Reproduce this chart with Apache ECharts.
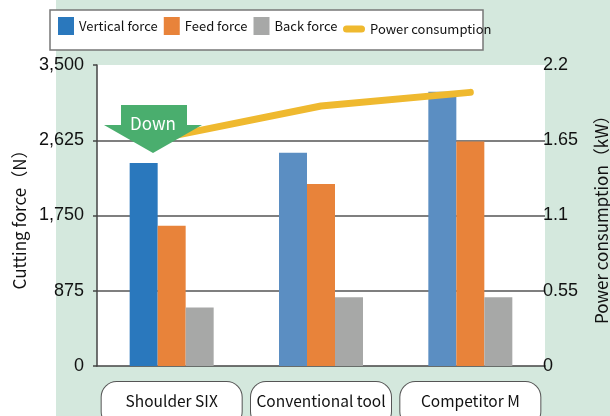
<!DOCTYPE html>
<html>
<head>
<meta charset="utf-8">
<script src="https://cdn.jsdelivr.net/npm/echarts@6/dist/echarts.min.js"></script>
<style>
  html, body { margin: 0; padding: 0; }
  #chart { width: 610px; height: 416px; }
</style>
</head>
<body>
<div id="chart"></div>
<script>
  // data
  const categories = ['Shoulder SIX', 'Conventional tool', 'Competitor M']
  const verticalForce = [2360, 2480, 3190]
  const feedForce = [1630, 2115, 2610]
  const backForce = [680, 800, 800]
  const powerConsumption = [1.68, 1.9, 2.0]
  const forceTicks = { min: 0, max: 3500, interval: 875 }
  const powerTicks = { min: 0, max: 2.2, interval: 0.55 }

  const uiFont = '"Noto Sans CJK SC", "Noto Sans", sans-serif'
  const numFont = '"Liberation Sans", Arial, sans-serif'
  // first group is highlighted in a deeper blue
  const blues = ['#2a78bd', '#5b8ec2', '#5b8ec2']

  const chart = echarts.init(document.getElementById('chart'))

  chart.setOption({
    backgroundColor: '#d4e8dd',
    animation: false,
    graphic: [
      { type: 'rect', z: -10, shape: { x: 0, y: 0, width: 56, height: 416 }, style: { fill: '#fff' } },
      { type: 'rect', z: 1, shape: { x: 50, y: 10, width: 433, height: 40 }, style: { fill: '#fff', stroke: '#777', lineWidth: 1.5 } },
      // "Down" arrow annotation
      {
        type: 'polygon', z: 100,
        shape: { points: [[121, 105], [187, 105], [187, 125], [202, 125], [153, 153], [104, 125], [121, 125]] },
        style: { fill: '#4aae6e' }
      },
      {
        type: 'text', z: 101, x: 153, y: 124,
        style: { text: 'Down', fill: '#fff', fontSize: 17, fontFamily: uiFont, align: 'center', verticalAlign: 'middle' }
      }
    ],
    legend: [{
      data: ['Vertical force', 'Feed force', 'Back force'],
      left: 58,
      top: 17,
      padding: 0,
      icon: 'rect',
      itemWidth: 16,
      itemHeight: 18,
      itemGap: 6,
      textStyle: { fontFamily: uiFont, fontSize: 13, color: '#111' }
    }, {
      data: [{ name: 'Power consumption', icon: 'path://M3.5,0H18.5A3.5,3.5,0,0,1,18.5,7H3.5A3.5,3.5,0,0,1,3.5,0Z' }],
      left: 343,
      top: 22.5,
      padding: 0,
      itemWidth: 22,
      itemHeight: 7,
      textStyle: { fontFamily: uiFont, fontSize: 13, color: '#111' }
    }],
    grid: {
      left: 97,
      right: 65,
      top: 65,
      bottom: 50,
      containLabel: false,
      outerBoundsMode: 'none',
      show: true,
      backgroundColor: '#fff',
      borderWidth: 0
    },
    xAxis: {
      type: 'category',
      data: categories,
      axisLine: { lineStyle: { color: '#444', width: 1.5 } },
      axisTick: { show: false },
      axisLabel: {
        interval: 0,
        margin: 16,
        fontFamily: uiFont,
        fontSize: 15.5,
        color: '#111',
        backgroundColor: '#fff',
        borderColor: '#555',
        borderWidth: 1,
        borderRadius: 15,
        width: 140,
        align: 'center',
        padding: [11, 0, 18, 0]
      }
    },
    yAxis: [{
      type: 'value',
      min: forceTicks.min,
      max: forceTicks.max,
      interval: forceTicks.interval,
      name: 'Cutting force（N）',
      nameLocation: 'middle',
      nameGap: 68,
      nameTextStyle: { fontFamily: uiFont, fontSize: 17, color: '#111' },
      axisLine: { show: true, lineStyle: { color: '#444', width: 1.5 } },
      axisTick: { show: true, length: 4, lineStyle: { color: '#444', width: 1.5 } },
      axisLabel: {
        margin: 13,
        fontFamily: numFont,
        fontSize: 18,
        color: '#111',
        formatter: v => v.toLocaleString('en-US')
      },
      splitLine: {
        show: true,
        showMinLine: false,
        showMaxLine: false,
        lineStyle: { color: '#555', width: 1.5 }
      }
    }, {
      type: 'value',
      position: 'right',
      min: powerTicks.min,
      max: powerTicks.max,
      interval: powerTicks.interval,
      name: 'Power consumption（kW）',
      nameLocation: 'middle',
      nameRotate: 90,
      nameGap: 48,
      nameTextStyle: { fontFamily: uiFont, fontSize: 17, color: '#111' },
      axisLine: { show: false },
      axisTick: { show: false },
      splitLine: { show: false },
      axisLabel: {
        margin: -2,
        fontFamily: numFont,
        fontSize: 18,
        color: '#111',
        formatter: v => String(+v.toFixed(2))
      }
    }],
    series: [{
      name: 'Vertical force',
      type: 'bar',
      barWidth: 28,
      barGap: '0%',
      itemStyle: { color: blues[0] },
      data: verticalForce.map((v, i) => ({ value: v, itemStyle: { color: blues[i] } }))
    }, {
      name: 'Feed force',
      type: 'bar',
      barWidth: 28,
      barGap: '0%',
      itemStyle: { color: '#e8833a' },
      data: feedForce
    }, {
      name: 'Back force',
      type: 'bar',
      barWidth: 28,
      barGap: '0%',
      itemStyle: { color: '#a7a8a7' },
      data: backForce
    }, {
      name: 'Power consumption',
      type: 'line',
      yAxisIndex: 1,
      symbol: 'none',
      z: 3,
      lineStyle: { color: '#efb92f', width: 7, cap: 'round' },
      itemStyle: { color: '#efb92f' },
      data: powerConsumption
    }]
  })
</script>
</body>
</html>
